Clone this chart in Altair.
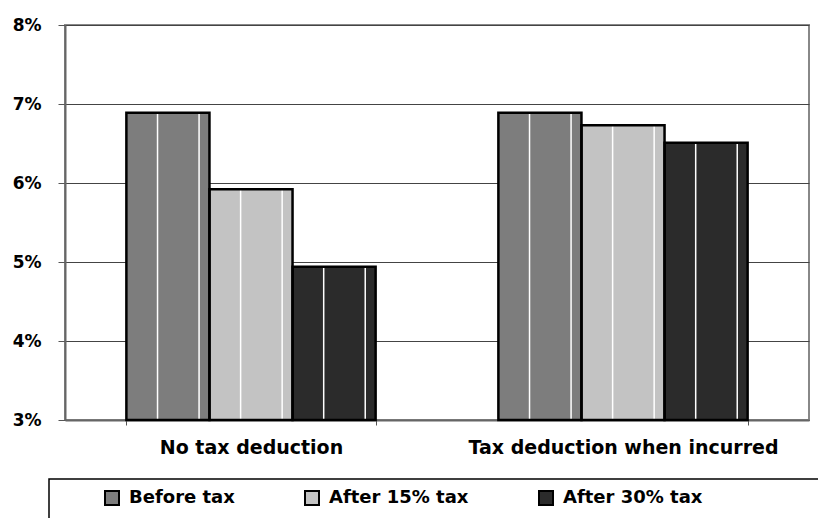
import altair as alt
import pandas as pd

# Categories, series and values (percent)
categories = ["No tax deduction", "Tax deduction when incurred"]
series = ["Before tax", "After 15% tax", "After 30% tax"]
no_deduction = [6.89, 5.92, 4.94]
deduction_when_incurred = [6.89, 6.73, 6.51]
y_ticks = [3, 4, 5, 6, 7, 8]
colors = ["#7d7d7d", "#c3c3c3", "#2b2b2b"]

rows = []
for s, a, b in zip(series, no_deduction, deduction_when_incurred):
    rows.append({"category": categories[0], "series": s, "value": a})
    rows.append({"category": categories[1], "series": s, "value": b})
df = pd.DataFrame(rows)

# texture stripes: each bar split into 4 slots, white stripes in slots 1 and 3
slots = 4
stripe_slots = [1, 3]
stripe_rows = [dict(r, slot=f"{r['series']}|{j}") for r in rows for j in stripe_slots]
stripe_df = pd.DataFrame(stripe_rows)
slot_domain = [f"{s}|{j}" for s in series for j in range(slots)]

FONT = "DejaVu Sans"

x_axis = alt.Axis(labelAngle=0, labelFont=FONT, labelFontSize=19, labelFontWeight="bold",
                  labelColor="black", labelPadding=13, labelLimit=500, tickBand="extent",
                  tickSize=5, tickColor="#555555", domainColor="#666666", domainWidth=2,
                  grid=False)
x_scale = alt.Scale(paddingInner=0.33, paddingOuter=0.165)
x = alt.X("category:N", sort=categories, title=None, scale=x_scale, axis=x_axis)
xo = alt.XOffset("series:N", sort=series, scale=alt.Scale(paddingInner=0, paddingOuter=0))
y = alt.Y(
    "value:Q", title=None,
    scale=alt.Scale(domain=[y_ticks[0], y_ticks[-1]], nice=False, zero=False),
    axis=alt.Axis(values=y_ticks, labelExpr="datum.value + '%'", labelFont=FONT,
                  labelFontSize=17, labelFontWeight="bold", labelColor="black",
                  labelPadding=17, tickSize=7, tickColor="#555555",
                  domainColor="#666666", domainWidth=2,
                  grid=True, gridColor="#444444", gridWidth=1),
)
base = alt.Chart(df).encode(x=x, xOffset=xo, y=y, y2=alt.datum(y_ticks[0]))

fills = base.mark_bar().encode(
    color=alt.Color(
        "series:N", sort=series,
        scale=alt.Scale(domain=series, range=colors),
        legend=alt.Legend(
            title=None, orient="none", legendX=38, legendY=464, direction="horizontal",
            symbolType="square", symbolSize=196, symbolStrokeColor="black",
            symbolStrokeWidth=2, symbolOpacity=1, labelFont=FONT, labelFontSize=18,
            labelFontWeight="bold", labelColor="black", labelOffset=8, columnPadding=66,
        ),
    )
)

stripes = alt.Chart(stripe_df).mark_rule(color="white", strokeWidth=1.5).encode(
    x=x,
    xOffset=alt.XOffset("slot:N", scale=alt.Scale(domain=slot_domain, paddingInner=0,
                                                  paddingOuter=0)),
    y=y, y2=alt.datum(y_ticks[0]),
)

outlines = base.mark_bar(fillOpacity=0, stroke="black", strokeWidth=2.5)

legend_frame = alt.Chart(pd.DataFrame({"k": [0]})).mark_rect(
    fillOpacity=0, stroke="black", strokeWidth=1.5
).encode(x=alt.value(-16), x2=alt.value(800), y=alt.value(454), y2=alt.value(530))

chart = (
    alt.layer(legend_frame, fills, stripes, outlines)
    .resolve_scale(xOffset="independent")
    .properties(
        width=744, height=395,
        autosize=alt.AutoSizeParams(type="none"),
        padding={"left": 65, "top": 25, "right": 9, "bottom": 98},
        background="white",
    )
    .configure_view(stroke="#888888", strokeWidth=2)
)

chart.save("out.html", embed_options={"renderer": "svg", "actions": False})
